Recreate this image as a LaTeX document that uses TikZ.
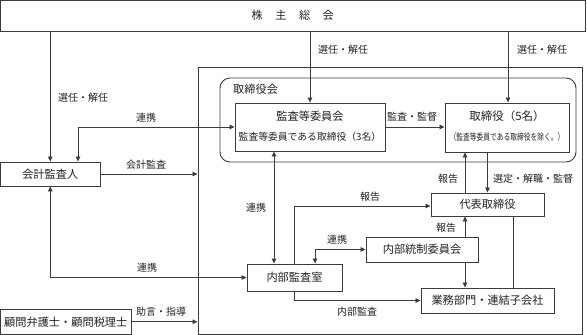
\documentclass[tikz,border=0pt]{standalone}
\usepackage{fontspec}
\setmainfont{Noto Sans CJK JP}
\usetikzlibrary{arrows.meta}
\definecolor{lc}{RGB}{60,60,60}
\definecolor{tc}{RGB}{35,35,35}
\begin{document}
\begin{tikzpicture}[x=1pt,y=-1pt,
  line/.style={draw=lc, line width=0.8pt},
  box/.style={draw=lc, line width=0.9pt, fill=white, inner sep=0pt, text=tc, font=\fontsize{11.2}{13}\selectfont},
  txt/.style={inner sep=0pt, text=tc, font=\fontsize{11.2}{13}\selectfont},
  lbl/.style={inner sep=0pt, text=tc, font=\fontsize{10}{12}\selectfont},
  arr/.style={line, -{Triangle[length=5pt,width=4.5pt]}},
  darr/.style={line, {Triangle[length=5pt,width=4.5pt]}-{Triangle[length=5pt,width=4.5pt]}}]
\fill[white] (0,0) rectangle (587,335);
\useasboundingbox (0,0) rectangle (587,335);

% boxes
\node[box, minimum width=584.5pt, minimum height=30.5pt] (top) at (292.75,15.75)
  {株\hspace{12.5pt}主\hspace{12.5pt}総\hspace{12.5pt}会};
\node[draw=lc, line width=0.9pt, inner sep=0pt, minimum width=384pt, minimum height=267pt] (outer) at (390,200.5) {};
\node[draw=lc, line width=0.9pt, rounded corners=10pt, inner sep=0pt, minimum width=356pt, minimum height=84pt] (board) at (398,120) {};
\node[txt, anchor=west] (boardlbl) at (233,89) {取締役会};

\node[box, minimum width=150pt, minimum height=48pt] (kansa) at (310,127) {};
\node[txt] (kansa1) at (310,116.5) {監査等委員会};
\node[txt, font=\fontsize{9.8}{12}\selectfont] (kansa2) at (310,137) {監査等委員である取締役（3名）};

\node[box, minimum width=124pt, minimum height=49pt] (tori) at (507,127.5) {};
\node[txt, font=\fontsize{11.5}{13}\selectfont] (tori1) at (507,116.5) {取締役（5名）};
\node[txt] (tori2) at (507,137) {\scalebox{0.75}[1]{\fontsize{9}{11}\selectfont（監査等委員である取締役を除く。）}};

\node[box, minimum width=99.5pt, minimum height=24pt] (kaikei) at (50.25,174) {会計監査人};
\node[box, minimum width=113pt, minimum height=23pt] (daihyo) at (487.5,204.5) {代表取締役};
\node[box, minimum width=112pt, minimum height=25pt] (tousei) at (422,249.5) {内部統制委員会};
\node[box, minimum width=133pt, minimum height=25pt] (gyomu) at (487.5,300.5) {業務部門・連結子会社};
\node[box, minimum width=95pt, minimum height=27pt] (naibu) at (294.5,277.5) {内部監査室};
\node[box, minimum width=130.5pt, minimum height=25.5pt] (komon) at (65.75,321.75) {顧問弁護士・顧問税理士};

% connectors
\draw[arr] (top.south -| kaikei) -- (kaikei.north);
\draw[arr] (top.south -| kansa) -- (kansa.north);
\draw[arr] ([xshift=1pt]top.south -| tori) -- ([xshift=1pt]tori.north);
\draw[darr] ([xshift=27.75pt]kaikei.north) |- (kansa.west);
\draw[arr] (kaikei.east) -- (kaikei.east -| outer.west);
\draw[arr] (kansa.east) -- (kansa.east -| tori.west);
\draw[arr] ([xshift=-22.5pt]daihyo.north) -- ([xshift=-22.5pt]daihyo.north |- tori.south);
\draw[arr] (tori.south -| daihyo) -- (daihyo.north);
\draw[arr] ([xshift=-0.5pt]naibu.north) |- ([yshift=-1.5pt]daihyo.west);
\draw[darr] ([xshift=-36pt]kansa.south) -- ([xshift=-36pt]kansa.south |- naibu.north);
\draw[darr] (kaikei.south) |- (naibu.west);
\draw[darr] ([xshift=20.5pt]naibu.north) |- (tousei.west);
\draw[arr] ([xshift=43pt]tousei.north) -- ([xshift=43pt]tousei.north |- daihyo.south);
\draw[arr] ([xshift=43pt]tousei.south) -- ([xshift=43pt]tousei.south |- gyomu.north);
\draw[line] ([xshift=25.5pt]daihyo.south) -- ([xshift=25.5pt]daihyo.south |- gyomu.north);
\draw[arr] ([xshift=-0.5pt]naibu.south) |- (gyomu.west);
\draw[arr] (komon.east) -- (komon.east -| outer.west);

% labels
\node[lbl] (l1) at (83,98) {選任・解任};
\node[lbl] (l2) at (343,50) {選任・解任};
\node[lbl] (l3) at (542,50) {選任・解任};
\node[lbl] (l4) at (146,118) {連携};
\node[lbl] (l5) at (146,165) {会計監査};
\node[lbl] (l6) at (412,117) {監査・監督};
\node[lbl] (l7) at (448,179) {報告};
\node[lbl] (l8) at (533,179) {選定・解職・監督};
\node[lbl] (l9) at (370,197) {報告};
\node[lbl] (l10) at (256,208) {連携};
\node[lbl] (l11) at (147,268) {連携};
\node[lbl] (l12) at (337,240) {連携};
\node[lbl] (l13) at (446,228) {報告};
\node[lbl] (l16) at (357,312) {内部監査};
\node[lbl] (l17) at (161,312) {助言・指導};
\end{tikzpicture}
\end{document}
